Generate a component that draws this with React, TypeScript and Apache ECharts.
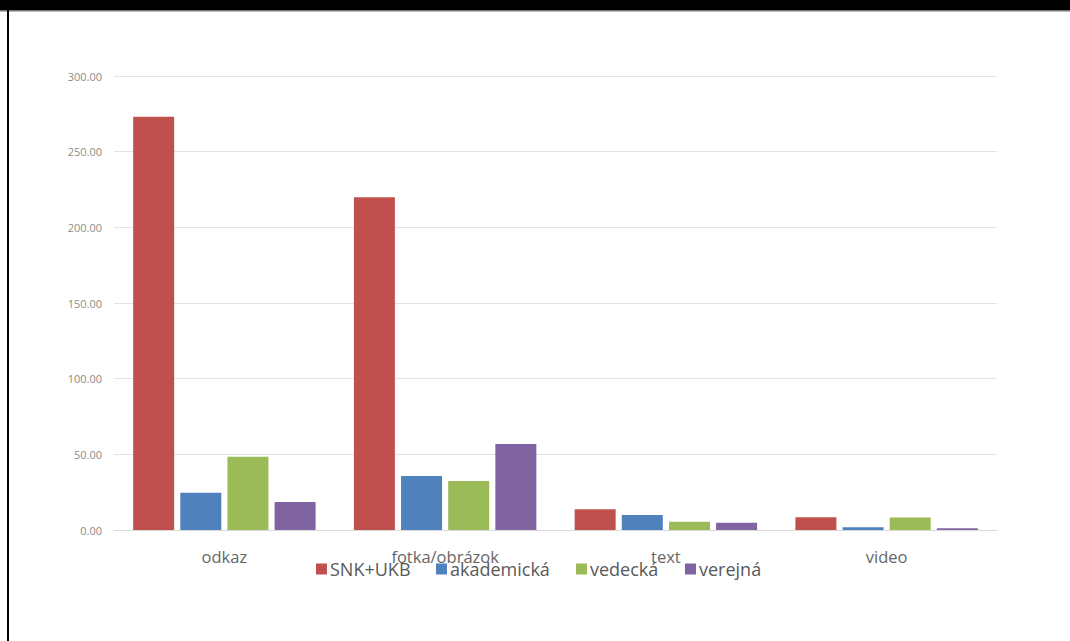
import React, { useEffect, useRef } from "react";
import * as echarts from "echarts";

const categories = ["odkaz", "fotka/obrázok", "text", "video"];
const seriesNames = ["SNK+UKB", "akademická", "vedecká", "verejná"];
const snkUkb = [273.1, 219.9, 13.7, 8.4];
const akademicka = [24.6, 35.7, 9.9, 1.8];
const vedecka = [48.4, 32.4, 5.5, 8.2];
const verejna = [18.5, 56.8, 4.8, 1.1];
const yTicks = [0, 50, 100, 150, 200, 250, 300];

const colors = ["#C0504D", "#4F81BD", "#9BBB59", "#8064A2"];
const legendLeft = [316, 436, 576, 685];

export default function App() {
  const ref = useRef<HTMLDivElement>(null);
  useEffect(() => {
    const chart = echarts.init(ref.current!, null, { renderer: "svg" });
    const values = [snkUkb, akademicka, vedecka, verejna];
    const font = "'Open Sans', 'Noto Sans', sans-serif";
    chart.setOption({
      animation: false,
      backgroundColor: "#ffffff",
      color: colors,
      grid: { left: 114, right: 73, top: 76, bottom: 111, containLabel: false },
      legend: seriesNames.map((n, i) => ({
        data: [n],
        left: legendLeft[i],
        top: 560,
        itemWidth: 11,
        itemHeight: 11,
        icon: "rect",
        padding: 0,
        textStyle: { fontSize: 18, color: "#595959", fontFamily: font, padding: [0, 0, 0, -2] },
      })),
      xAxis: {
        type: "category",
        data: categories,
        axisLine: { lineStyle: { color: "#d9d9d9", width: 1 } },
        axisTick: { show: false },
        axisLabel: { fontSize: 16.5, color: "#666666", fontFamily: font, margin: 18 },
      },
      yAxis: {
        type: "value",
        min: yTicks[0],
        max: yTicks[yTicks.length - 1],
        interval: 50,
        axisLine: { show: false },
        axisTick: { show: false },
        splitLine: { lineStyle: { color: "#e3e3e3", width: 1 } },
        axisLabel: {
          fontSize: 11,
          color: "#8c8c8c",
          fontFamily: font,
          margin: 12,
          formatter: (v: number) => v.toFixed(2),
        },
      },
      series: seriesNames.map((n, i) => ({
        name: n,
        type: "bar",
        data: values[i],
        barWidth: 41,
        barGap: "15%",
        itemStyle: { color: colors[i] },
      })),
      graphic: [
        { type: "rect", shape: { x: 0, y: 0, width: 1070, height: 10 }, style: { fill: "#000" }, z: 100 },
        { type: "rect", shape: { x: 0, y: 10, width: 1070, height: 1.5 }, style: { fill: "#777" }, z: 100 },
        { type: "rect", shape: { x: 7, y: 0, width: 2, height: 641 }, style: { fill: "#000" }, z: 100 },
      ],
    });
    return () => chart.dispose();
  }, []);
  return (
    <div style={{ position: "fixed", left: 0, top: 0, width: 1070, height: 641, background: "#fff" }}>
      <div ref={ref} style={{ width: 1070, height: 641 }} />
    </div>
  );
}
